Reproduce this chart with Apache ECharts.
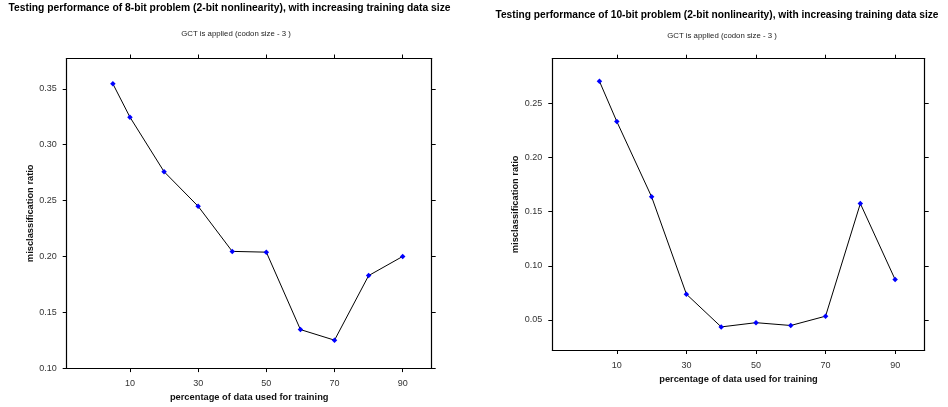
<!DOCTYPE html>
<html>
<head>
<meta charset="utf-8">
<script src="https://cdn.jsdelivr.net/npm/echarts@6/dist/echarts.min.js"></script>
<style>
  html, body { margin: 0; padding: 0; background: #fff; }
  #chart { width: 948px; height: 407px; }
</style>
</head>
<body>
<div id="chart"></div>
<script>
// Percentage of the data set used for training
const trainPct = [5, 10, 20, 30, 40, 50, 60, 70, 80, 90];
// Misclassification ratio, 8-bit problem
const err8bit = [0.3545, 0.3247, 0.2759, 0.2449, 0.2045, 0.2038, 0.1345, 0.1250, 0.1828, 0.2000];
// Misclassification ratio, 10-bit problem
const err10bit = [0.2702, 0.2330, 0.1636, 0.0738, 0.0436, 0.0475, 0.0449, 0.0535, 0.1574, 0.0873];

const xTicks = [10, 30, 50, 70, 90];
const yTicks8 = [0.10, 0.15, 0.20, 0.25, 0.30, 0.35];
const yTicks10 = [0.05, 0.10, 0.15, 0.20, 0.25];

const titles = [
  'Testing performance of 8-bit problem (2-bit nonlinearity), with increasing training data size',
  'Testing performance of 10-bit problem (2-bit nonlinearity), with increasing training data size'
];
const subtitle = 'GCT is applied (codon size - 3 )';
const xName = 'percentage of data used for training';
const yName = 'misclassification ratio';

const FONT = "'Liberation Sans', Arial, sans-serif";
const xRange = [-8.55, 98.5];

function panelAxes(gridIndex, yMin, yMax, yTicks) {
  const line = { show: true, onZero: false, lineStyle: { color: '#000', width: 1.2 } };
  const tick = (vals) => ({ show: true, inside: false, length: 4, customValues: vals,
                            lineStyle: { color: '#000', width: 1 } });
  const xs = [
    { type: 'value', gridIndex, position: 'bottom', min: xRange[0], max: xRange[1],
      axisLine: line, axisTick: tick(xTicks), splitLine: { show: false },
      axisLabel: { customValues: xTicks, color: '#333', fontSize: 9, fontFamily: FONT, margin: 11 },
      name: xName, nameLocation: 'middle', nameGap: 24,
      nameTextStyle: { fontWeight: 'bold', fontSize: 9.3, color: '#111', fontFamily: FONT } },
    { type: 'value', gridIndex, position: 'top', min: xRange[0], max: xRange[1],
      axisLine: line, axisTick: tick(xTicks), splitLine: { show: false },
      axisLabel: { show: false } }
  ];
  const ys = [
    { type: 'value', gridIndex, position: 'left', min: yMin, max: yMax,
      axisLine: line, axisTick: tick(yTicks), splitLine: { show: false },
      axisLabel: { customValues: yTicks, color: '#333', fontSize: 9, fontFamily: FONT, margin: 10,
                   formatter: (v) => v.toFixed(2) },
      name: yName, nameLocation: 'middle', nameGap: 32,
      nameTextStyle: { fontWeight: 'bold', fontSize: 9.3, color: '#111', fontFamily: FONT } },
    { type: 'value', gridIndex, position: 'right', min: yMin, max: yMax,
      axisLine: line, axisTick: tick(yTicks), splitLine: { show: false },
      axisLabel: { show: false } }
  ];
  return { xs, ys };
}

const p1 = panelAxes(0, 0.10, 0.3772, yTicks8);
const p2 = panelAxes(1, 0.0223, 0.2910, yTicks10);

function lineSeries(xIdx, yIdx, values) {
  return {
    type: 'line', xAxisIndex: xIdx, yAxisIndex: yIdx,
    data: trainPct.map((p, i) => [p, values[i]]),
    symbol: 'diamond', symbolSize: 5.5,
    itemStyle: { color: '#0000ff' },
    lineStyle: { color: '#000', width: 1 },
    animation: false
  };
}

const chart = echarts.init(document.getElementById('chart'), null, { renderer: 'canvas' });
chart.setOption({
  backgroundColor: '#fff',
  animation: false,
  grid: [
    { left: 66.7, top: 58.5, width: 365, height: 310.8 },
    { left: 552.3, top: 58.7, width: 372.4, height: 291.3 }
  ],
  xAxis: [...p1.xs, ...p2.xs],
  yAxis: [...p1.ys, ...p2.ys],
  graphic: [
    { type: 'text', x: 229.5, y: 8.5, style: { text: titles[0], fill: '#000', font: `bold 10.3px ${FONT}`,
      textAlign: 'center', textVerticalAlign: 'middle' } },
    { type: 'text', x: 717, y: 15, style: { text: titles[1], fill: '#000', font: `bold 10.2px ${FONT}`,
      textAlign: 'center', textVerticalAlign: 'middle' } },
    { type: 'text', x: 236, y: 33.5, style: { text: subtitle, fill: '#222', font: `7.8px ${FONT}`,
      textAlign: 'center', textVerticalAlign: 'middle' } },
    { type: 'text', x: 722, y: 35.7, style: { text: subtitle, fill: '#222', font: `7.8px ${FONT}`,
      textAlign: 'center', textVerticalAlign: 'middle' } }
  ],
  series: [
    lineSeries(0, 0, err8bit),
    lineSeries(2, 2, err10bit)
  ]
});
</script>
</body>
</html>
